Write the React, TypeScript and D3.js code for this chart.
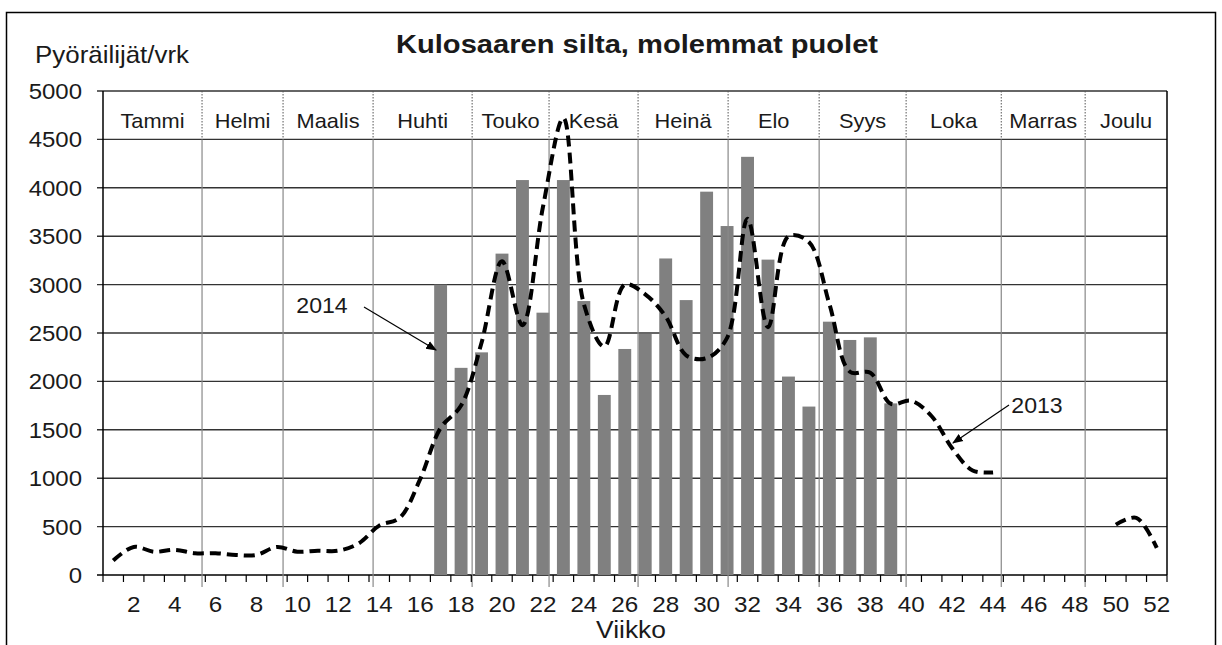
import * as d3 from "d3";

// 2014 weekly average (bars), weeks 17..39
const barWeeks = [17, 18, 19, 20, 21, 22, 23, 24, 25, 26, 27, 28, 29, 30, 31, 32, 33, 34, 35, 36, 37, 38, 39];
const bars2014 = [3000, 2140, 2300, 3320, 4080, 2710, 4080, 2830, 1860, 2335, 2490, 3270, 2840, 3960, 3605, 4320, 3258, 2050, 1740, 2617, 2428, 2455, 1773];

// 2013 weekly average (dashed line), null = no data
const lineWeeks = d3.range(1, 53);
const line2013: (number | null)[] = [
  150, 290, 240, 260, 225, 225, 207, 207, 290, 241, 251, 251, 327, 510, 590, 990,
  1520, 1750, 2400, 3240, 2580, 3800, 4720, 2800, 2360, 3000, 2900, 2670, 2270, 2240,
  2450, 3680, 2560, 3500, 3440, 2800, 2100, 2090, 1770, 1800, 1640, 1310, 1080, 1060,
  null, null, null, null, null, 520, 590, 280,
];

const months = ["Tammi", "Helmi", "Maalis", "Huhti", "Touko", "Kesä", "Heinä", "Elo", "Syys", "Loka", "Marras", "Joulu"];
// month boundaries on the week axis
const monthEdges = [0, 4.84, 8.8, 13.2, 18.04, 21.8, 26.15, 30.55, 35.0, 39.25, 43.9, 48.0, 52];

const yTicks = d3.range(0, 5001, 500);
const xTickLabels = d3.range(2, 53, 2);

const W = 1222;
const H = 645;
const left = 103;
const right = 1167;
const top = 91;
const bottom = 575;

const font = "'Liberation Sans', Arial, sans-serif";

// text slightly stretched horizontally, like the original picture
const T = ({
  x, y, size, sx = 1.1, anchor = "start", bold = false, dy, children,
}: {
  x: number; y: number; size: number; sx?: number; anchor?: string; bold?: boolean; dy?: string; children: any;
}) => (
  <text
    transform={`translate(${x},${y}) scale(${sx},1)`}
    textAnchor={anchor}
    fontSize={size}
    fontWeight={bold ? "bold" : "normal"}
    dy={dy}
    fill="#1a1a1a"
  >
    {children}
  </text>
);

export default function App() {
  const xBand = d3
    .scaleBand<number>()
    .domain(lineWeeks)
    .range([left, right])
    .paddingInner(0.37)
    .paddingOuter(0.185);
  const xLin = d3.scaleLinear().domain([0, 52]).range([left, right]);
  const y = d3.scaleLinear().domain([0, 5000]).range([bottom, top]);
  const cx = (w: number) => (xBand(w) ?? 0) + xBand.bandwidth() / 2;

  const pts = lineWeeks.map((w, i) => ({ w, v: line2013[i] }));
  const lineGen = d3
    .line<{ w: number; v: number | null }>()
    .defined((d) => d.v !== null)
    .x((d) => cx(d.w))
    .y((d) => y(d.v as number))
    .curve(d3.curveCatmullRom.alpha(0.5));

  const headerY = y(4500);

  return (
    <svg
      width={W}
      height={H}
      style={{ position: "absolute", left: 0, top: 0, background: "#fff" }}
      fontFamily={font}
    >
      <defs>
        <marker id="arr" viewBox="0 0 10 10" refX="9" refY="5" markerWidth="9" markerHeight="9" orient="auto">
          <path d="M0,1 L10,5 L0,9 z" fill="#000" />
        </marker>
      </defs>
      <rect x={6.5} y={12.5} width={1209} height={660} fill="#fff" stroke="#000" strokeWidth={1.5} />

      <T x={637} y={53} size={26} sx={1.12} anchor="middle" bold>
        Kulosaaren silta, molemmat puolet
      </T>
      <T x={35} y={63} size={24} sx={1.08}>
        Pyöräilijät/vrk
      </T>

      {/* horizontal grid */}
      {yTicks.map((t) => (
        <g key={t}>
          <line x1={left - 6} x2={right} y1={y(t)} y2={y(t)} stroke={t === 0 ? "#000" : "#333"} strokeWidth={1.4} />
          <T x={82} y={y(t)} dy="0.36em" anchor="end" size={22} sx={1.09}>
            {t}
          </T>
        </g>
      ))}

      {/* bars */}
      {barWeeks.map((w, i) => (
        <rect
          key={w}
          x={xBand(w)}
          y={y(bars2014[i])}
          width={xBand.bandwidth()}
          height={bottom - y(bars2014[i])}
          fill="#808080"
        />
      ))}

      {/* month separators */}
      {monthEdges.slice(1, -1).map((m) => (
        <g key={m}>
          <line x1={xLin(m)} x2={xLin(m)} y1={top} y2={headerY} stroke="#555" strokeWidth={1} strokeDasharray="1.5,1.5" />
          <line x1={xLin(m)} x2={xLin(m)} y1={headerY} y2={bottom + 12} stroke="#888" strokeWidth={1.2} />
        </g>
      ))}
      {months.map((m, i) => (
        <T key={m} x={xLin((monthEdges[i] + monthEdges[i + 1]) / 2)} y={128} anchor="middle" size={20} sx={1.09}>
          {m}
        </T>
      ))}

      {/* axes frame */}
      <line x1={left} x2={left} y1={top} y2={bottom} stroke="#000" strokeWidth={1.5} />
      <line x1={right} x2={right} y1={top} y2={bottom} stroke="#000" strokeWidth={1.5} />
      {d3.range(0, 53).map((k) => (
        <line key={k} x1={xLin(k)} x2={xLin(k)} y1={bottom} y2={bottom + 7} stroke="#000" strokeWidth={1.2} />
      ))}
      {xTickLabels.map((w) => (
        <T key={w} x={cx(w)} y={612} anchor="middle" size={22} sx={1.1}>
          {w}
        </T>
      ))}
      <T x={631} y={638} anchor="middle" size={24} sx={1.1}>
        Viikko
      </T>

      {/* 2013 line */}
      <path d={lineGen(pts) ?? ""} fill="none" stroke="#000" strokeWidth={4} strokeDasharray="11,6" />

      {/* annotations */}
      <T x={322} y={313} anchor="middle" size={22} sx={1.05}>
        2014
      </T>
      <line x1={364} y1={307} x2={436} y2={350} stroke="#000" strokeWidth={1.2} markerEnd="url(#arr)" />
      <T x={1037} y={413} anchor="middle" size={22} sx={1.05}>
        2013
      </T>
      <line x1={1009} y1={405} x2={953} y2={443} stroke="#000" strokeWidth={1.2} markerEnd="url(#arr)" />
    </svg>
  );
}
